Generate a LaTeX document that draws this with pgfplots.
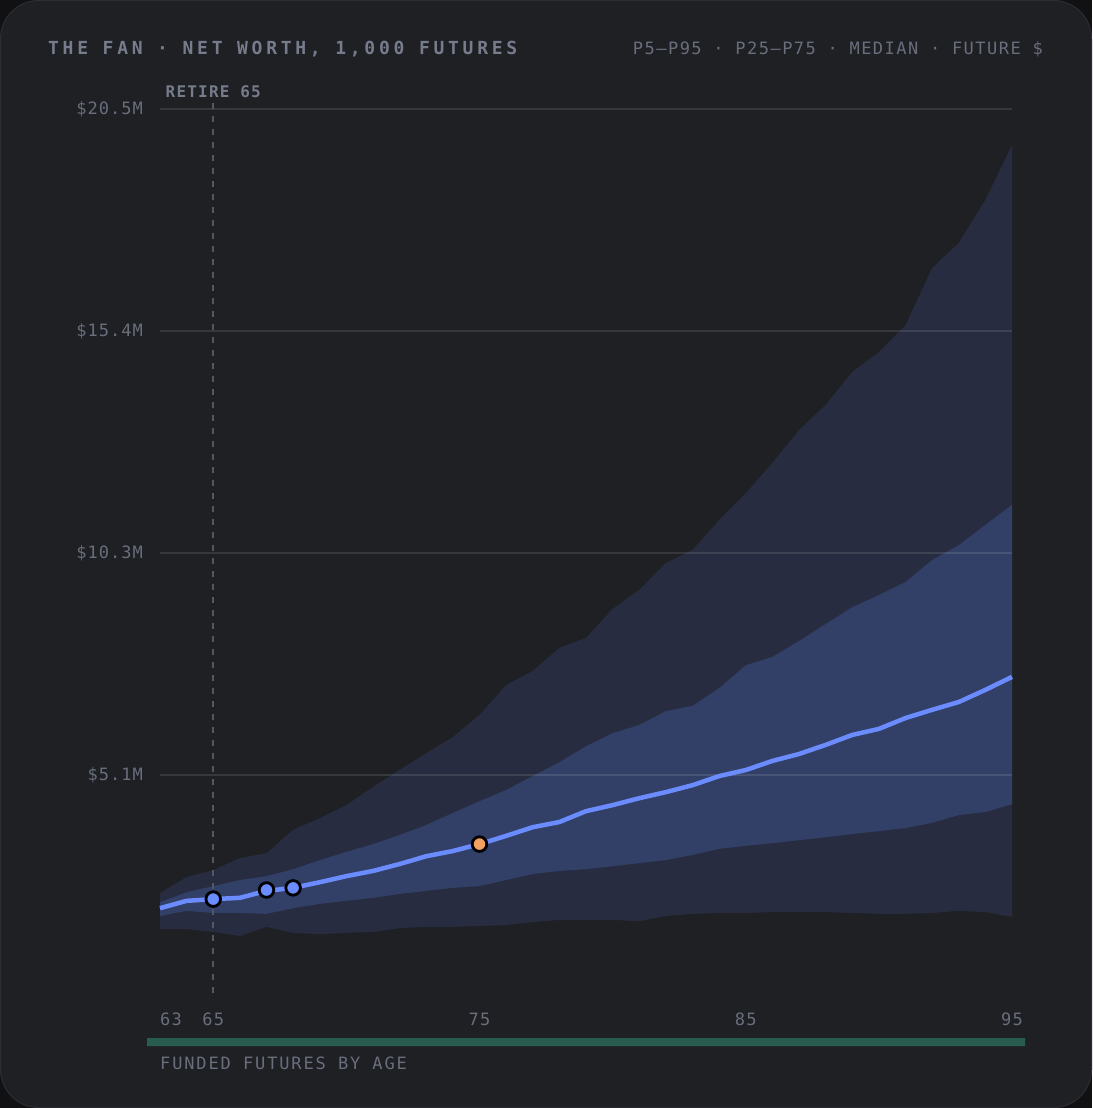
\documentclass[border=0pt]{standalone}
\usepackage{pgfplots}
\pgfplotsset{compat=1.18}
\usepgfplotslibrary{fillbetween}
\usepackage{fontspec}
\newfontfamily\titlefont[LetterSpace=20.7]{DejaVu Sans Mono}
\newfontfamily\legfont[LetterSpace=8.7]{DejaVu Sans Mono}
\newfontfamily\tickfont[LetterSpace=5.8]{DejaVu Sans Mono}
\newfontfamily\xtickfont[LetterSpace=7]{DejaVu Sans Mono}
\newfontfamily\footfont[LetterSpace=11]{DejaVu Sans Mono}
\newfontfamily\retfont[LetterSpace=7.5]{DejaVu Sans Mono}

\definecolor{outerbg}{RGB}{17,17,19}
\definecolor{cardbg}{RGB}{31,32,36}
\definecolor{cardedge}{RGB}{44,45,50}
\definecolor{tickc}{RGB}{105,110,125}
\definecolor{titlec}{RGB}{118,124,140}
\definecolor{bandout}{RGB}{39,44,64}
\definecolor{bandin}{RGB}{50,63,102}
\definecolor{medc}{RGB}{107,140,255}
\definecolor{orangec}{RGB}{244,160,96}
\definecolor{greenc}{RGB}{40,92,78}
\definecolor{dashc}{RGB}{85,87,95}

\pgfplotstableread{
age p5 p25 med p75 p95
63 1.57 1.87 2.05 2.19 2.40
64 1.57 1.99 2.22 2.42 2.77
65 1.50 1.94 2.26 2.56 2.93
66 1.41 1.94 2.29 2.70 3.21
67 1.62 1.92 2.45 2.79 3.32
68 1.48 2.05 2.52 2.95 3.86
69 1.45 2.15 2.65 3.16 4.13
70 1.48 2.22 2.79 3.35 4.43
71 1.50 2.29 2.91 3.53 4.85
72 1.59 2.38 3.07 3.74 5.24
73 1.62 2.45 3.25 3.97 5.63
74 1.62 2.52 3.37 4.25 6.00
75 1.64 2.56 3.53 4.52 6.51
76 1.66 2.70 3.72 4.78 7.20
77 1.73 2.84 3.92 5.10 7.53
78 1.78 2.91 4.04 5.42 8.06
79 1.78 2.95 4.29 5.79 8.29
80 1.78 3.02 4.43 6.09 8.96
81 1.75 3.09 4.59 6.28 9.40
82 1.87 3.16 4.73 6.60 10.02
83 1.92 3.28 4.89 6.72 10.32
84 1.94 3.42 5.10 7.13 11.01
85 1.94 3.49 5.24 7.66 11.63
86 1.96 3.55 5.45 7.85 12.33
87 1.96 3.62 5.61 8.22 13.09
88 1.96 3.69 5.82 8.61 13.67
89 1.94 3.76 6.05 9.00 14.43
90 1.92 3.83 6.19 9.28 14.89
91 1.92 3.90 6.44 9.58 15.51
92 1.94 4.02 6.63 10.09 16.83
93 1.99 4.20 6.81 10.43 17.41
94 1.96 4.27 7.09 10.90 18.40
95 1.85 4.45 7.39 11.36 19.67
}\fan

\pgfplotstableread{
age f
63 1
64 1
65 1
66 1
67 1
68 1
69 1
70 1
71 1
72 1
73 1
74 1
75 1
76 1
77 1
78 1
79 1
80 1
81 1
82 1
83 1
84 1
85 1
86 1
87 1
88 1
89 1
90 1
91 1
92 1
93 1
94 1
95 1
}\funded

\begin{document}
\begin{tikzpicture}
\begin{axis}[
  at={(160pt,-997pt)}, anchor=south west,
  scale only axis, width=852pt, height=888pt,
  xmin=63, xmax=95, ymin=0, ymax=20.5,
  clip=false,
  axis line style={draw=none},
  major tick length=0pt,
  ytick={5.125,10.25,15.375,20.5},
  yticklabels={\$5.1M,\$10.3M,\$15.4M,\$20.5M},
  xtick={65,75,85,95},
  xticklabels={65,75,85,95},
  yticklabel style={anchor=east, inner sep=0pt, xshift=-17pt, text=tickc, font=\tickfont\fontsize{17}{17}\selectfont},
  xticklabel style={anchor=center, inner sep=0pt, yshift=-22pt, text=tickc, font=\xtickfont\fontsize{17}{17}\selectfont},
]
\begin{pgfonlayer}{axis background}
\fill[outerbg] ([xshift=-160pt,yshift=-111pt]rel axis cs:0,0) rectangle ([xshift=80pt,yshift=109pt]rel axis cs:1,1);
\fill[cardbg, draw=cardedge, line width=1pt, rounded corners=38pt] ([xshift=-159.5pt,yshift=-110.5pt]rel axis cs:0,0) rectangle ([xshift=79.5pt,yshift=108.5pt]rel axis cs:1,1);
\end{pgfonlayer}
\addplot[draw=none, name path=p95] table[x=age,y=p95]{\fan};
\addplot[draw=none, name path=p5] table[x=age,y=p5]{\fan};
\addplot[draw=none, name path=p75] table[x=age,y=p75]{\fan};
\addplot[draw=none, name path=p25] table[x=age,y=p25]{\fan};
\addplot[bandout] fill between[of=p95 and p5];
\addplot[bandin] fill between[of=p75 and p25];
\foreach \yy in {5.125,10.25,15.375,20.5} {
  \edef\tmp{\noexpand\draw[white, opacity=0.11, line width=1.4pt] (axis cs:63,\yy) -- (axis cs:95,\yy);}\tmp
}
\draw[dashc, line width=1.8pt, dash pattern=on 6pt off 7pt] (axis cs:65,0.1) -- (axis cs:65,20.72);
\addplot[medc, line width=4.5pt, line join=round] table[x=age,y=med]{\fan};
\addplot[only marks, mark=*, mark size=7.3pt, mark options={fill=medc, draw=black, line width=2.8pt}] coordinates {(65,2.26) (67,2.47) (68,2.52)};
\addplot[only marks, mark=*, mark size=7.3pt, mark options={fill=orangec, draw=black, line width=2.8pt}] coordinates {(75,3.53)};
\node[anchor=base, inner sep=0pt, text=titlec] at (axis cs:65,20.5) [yshift=12pt] {\retfont\bfseries\fontsize{16}{16}\selectfont RETIRE 65};
\node[anchor=west, inner sep=0pt, text=tickc] at (axis cs:63,0) [yshift=-22pt] {\xtickfont\fontsize{17}{17}\selectfont 63};
\end{axis}

% title and legend
\node[anchor=base west, inner sep=0pt, text=titlec] at (48pt,-54pt) {\titlefont\bfseries\fontsize{18}{18}\selectfont THE FAN · NET WORTH, 1,000 FUTURES};
\node[anchor=base east, inner sep=0pt, text=tickc] at (1043pt,-54pt) {\legfont\fontsize{17}{17}\selectfont P5–P95 · P25–P75 · MEDIAN · FUTURE \$};

\begin{axis}[
  at={(147pt,-1046pt)}, anchor=south west,
  scale only axis, width=878pt, height=8pt,
  xmin=62.5, xmax=95.5, ymin=0, ymax=1,
  hide axis, ybar, bar width=27pt, bar shift=0pt,
]
\addplot[fill=greenc, draw=none] table[x=age,y=f]{\funded};
\end{axis}

\node[anchor=base west, inner sep=0pt, text=tickc] at (160pt,-1069pt) {\footfont\fontsize{17}{17}\selectfont FUNDED FUTURES BY AGE};
\end{tikzpicture}
\end{document}
